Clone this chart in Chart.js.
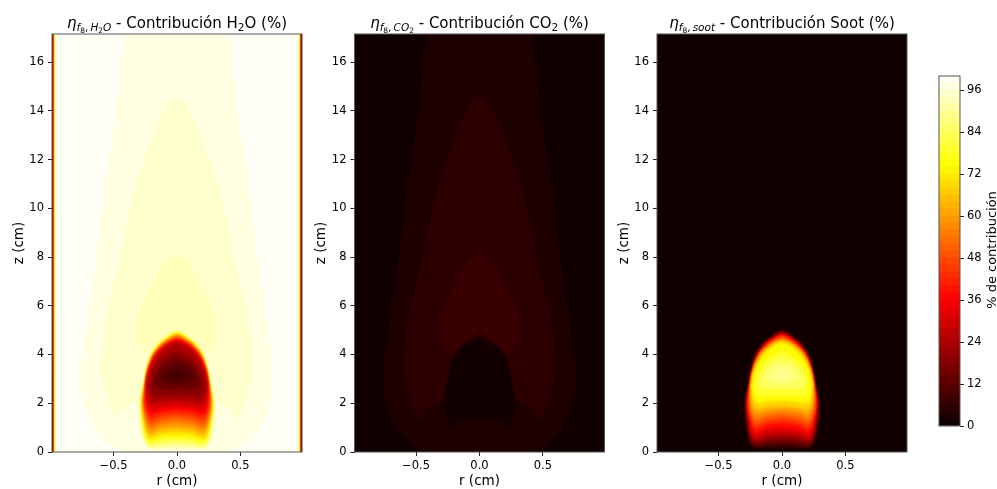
<!DOCTYPE html>
<html><head><meta charset="utf-8">
<style>
html,body{margin:0;padding:0;background:#fff;width:997px;height:489px;overflow:hidden}
canvas{position:absolute;top:0}
</style>
<script src="https://cdn.jsdelivr.net/npm/chart.js@4"></script>
</head><body>
<canvas id="c1" width="310" height="489" style="left:0"></canvas>
<canvas id="c2" width="305" height="489" style="left:305px"></canvas>
<canvas id="c3" width="305" height="489" style="left:608px"></canvas>
<canvas id="cb" width="82" height="489" style="left:915px"></canvas>
<script>
// ---- axis data ----
const rLimit = 0.985;
const zLimit = 17.15;
const rTicks = [-0.5, 0, 0.5];
const rTickLabels = ['\u22120.5', '0.0', '0.5'];
const zTicks = [0, 2, 4, 6, 8, 10, 12, 14, 16];
const colorbarTicks = [0, 12, 24, 36, 48, 60, 72, 84, 96];
const colorbarEdges = [0,2,4,6,8,10,12,14,16,18,20,22,24,26,28,30,32,34,36,38,40,42,44,46,48,50,52,54,56,58,60,62,64,66,68,70,72,74,76,78,80,82,84,86,88,90,92,94,96,98,100];

// ---- contour levels (% contribution) ----
const h2oBackground = 99;
const co2Background = 1;
const sootBackground = 1;
const h2oOuterLevels = [97, 95, 93];
const co2OuterLevels = [3, 5, 7];
const co2BubbleLevel = 1;
const sootFlameLevels = [3, 8, 14, 20, 26, 32, 38, 44, 50, 56, 62, 68, 74, 79, 84, 87, 89];
const h2oFlameLevels = [95, 90, 84, 78, 72, 66, 60, 54, 48, 42, 36, 30, 24, 19, 14, 11, 9];
const wallLevels = [90, 70, 50, 30, 5];
const wallInnerR = [0.956, 0.964, 0.970, 0.974, 0.979];

// ---- contour outlines, right half, [r, z] in cm ----
const outlineA = [[0,0],[.41,0],[.52,.28],[.62,.75],[.70,1.5],[.745,2.3],[.755,3.0],[.75,3.8],[.72,4.86],[.677,6.4],[.643,7.7],[.565,11],[.486,13.7],[.412,17.15],[.40,17.15],[0,17.15]];
const outlineB = [[0,4.78],[.14,4.38],[.2,4.0],[.245,3.3],[.265,2.7],[.289,2.2],[.336,2.0],[.428,1.72],[.48,1.31],[.507,1.58],[.55,2.27],[.593,3.09],[.59,4.18],[.56,5.55],[.5,6.9],[.459,7.7],[.394,9.48],[.328,10.87],[.223,12.5],[.118,13.85],[.05,14.4],[0,14.55]];
const outlineC = [[0,4.97],[.126,4.45],[.218,4.02],[.297,4.45],[.32,4.93],[.31,5.48],[.257,6.23],[.178,7.05],[.1,7.73],[0,8.07]];
const outlineBubble = [[0,1.38],[.165,1.24],[.226,1.01],[.244,1.1],[.27,1.72],[.262,2.54],[.218,3.63],[.178,4.04],[.087,4.38],[0,4.59]];
const flameOutlines = [
[[0,.08],[.12,.08],[.19,.10],[.235,.18],[.265,.45],[.285,.95],[.297,1.6],[.297,2.1],[.264,2.8],[.243,3.4],[.214,3.98],[.178,4.32],[.147,4.52],[.1,4.73],[.052,4.93],[0,5.03]],
[[0,.2],[.12,.18],[.19,.15],[.232,.23],[.26,.5],[.278,.98],[.291,1.6],[.292,2.1],[.262,2.8],[.241,3.4],[.21,3.98],[.172,4.32],[.14,4.52],[.09,4.73],[.045,4.91],[0,5.0]],
[[0,.34],[.12,.31],[.19,.24],[.228,.3],[.254,.56],[.272,1.0],[.285,1.6],[.287,2.1],[.26,2.8],[.239,3.4],[.206,3.98],[.166,4.32],[.132,4.52],[.08,4.73],[.04,4.88],[0,4.96]],
[[0,.5],[.12,.46],[.19,.36],[.225,.4],[.25,.63],[.266,1.02],[.279,1.6],[.282,2.1],[.258,2.8],[.237,3.4],[.202,3.98],[.16,4.32],[.125,4.52],[.07,4.73],[.035,4.85],[0,4.92]],
[[0,.66],[.12,.61],[.19,.48],[.222,.5],[.246,.72],[.26,1.05],[.274,1.6],[.278,2.1],[.256,2.8],[.235,3.4],[.198,3.98],[.154,4.32],[.118,4.52],[.06,4.73],[.03,4.82],[0,4.88]],
[[0,.82],[.12,.77],[.19,.62],[.218,.63],[.24,.82],[.254,1.1],[.27,1.6],[.274,2.1],[.254,2.8],[.233,3.4],[.194,3.98],[.148,4.32],[.11,4.52],[.05,4.73],[.025,4.79],[0,4.84]],
[[0,1],[.12,.94],[.19,.78],[.214,.77],[.235,.94],[.25,1.2],[.266,1.65],[.27,2.1],[.252,2.8],[.231,3.4],[.19,3.98],[.142,4.32],[.102,4.52],[.04,4.73],[0,4.8]],
[[0,1.2],[.12,1.12],[.19,.95],[.21,.94],[.23,1.08],[.246,1.32],[.262,1.7],[.266,2.1],[.25,2.8],[.229,3.4],[.186,3.98],[.136,4.32],[.09,4.52],[.025,4.73],[0,4.76]],
[[0,1.38],[.12,1.3],[.19,1.14],[.21,1.12],[.228,1.25],[.243,1.45],[.258,1.75],[.262,2.1],[.248,2.8],[.227,3.4],[.182,3.98],[.13,4.32],[.08,4.52],[.03,4.68],[0,4.71]],
[[0,1.55],[.12,1.48],[.19,1.34],[.21,1.33],[.225,1.42],[.24,1.6],[.252,1.85],[.256,2.1],[.246,2.8],[.225,3.4],[.178,3.98],[.12,4.32],[.065,4.52],[.025,4.63],[0,4.66]],
[[0,1.72],[.12,1.66],[.19,1.55],[.212,1.55],[.228,1.67],[.24,1.85],[.248,2.05],[.25,2.25],[.244,2.8],[.222,3.4],[.172,3.98],[.11,4.32],[.05,4.52],[0,4.6]],
[[0,1.88],[.12,1.83],[.18,1.75],[.21,1.78],[.228,1.95],[.238,2.15],[.241,2.5],[.241,2.8],[.218,3.4],[.165,3.98],[.1,4.32],[.03,4.52],[0,4.54]],
[[0,2.1],[.12,2.06],[.18,2.0],[.21,2.05],[.225,2.25],[.235,2.5],[.238,2.8],[.212,3.4],[.145,3.98],[.07,4.32],[0,4.47]],
[[0,2.3],[.12,2.28],[.17,2.27],[.2,2.35],[.215,2.6],[.218,2.8],[.185,3.4],[.12,3.8],[.06,4.02],[0,4.12]],
[[0,2.58],[.1,2.57],[.15,2.62],[.178,2.75],[.184,2.9],[.14,3.42],[.09,3.67],[0,3.87]],
[[0,2.82],[.07,2.83],[.115,2.92],[.14,3.08],[.08,3.44],[.04,3.54],[0,3.58]],
[[0,3.0],[.04,3.01],[.07,3.12],[.05,3.32],[0,3.4]]
];

// ---- text ----
const rLabel = 'r (cm)';
const zLabel = 'z (cm)';
const colorbarLabel = '% de contribuci\u00f3n';
const mathPrefix = [['\u03b7',15,'italic',0],['f',10.5,'italic',3],['8',7.5,'',5],[',\u2009',10.5,'',3]];
const titleH2O = mathPrefix.concat([['H',10.5,'italic',3],['2',7.5,'',5],['O',10.5,'italic',3],[' - Contribuci\u00f3n H',15,'',0],['2',10.5,'',3],['O (%)',15,'',0]]);
const titleCO2 = mathPrefix.concat([['CO',10.5,'italic',3],['2',7.5,'',5],[' - Contribuci\u00f3n CO',15,'',0],['2',10.5,'',3],[' (%)',15,'',0]]);
const titleSoot = mathPrefix.concat([['soot',10.5,'italic',3],[' - Contribuci\u00f3n Soot (%)',15,'',0]]);

// ---- helpers ----
const FONT = '"DejaVu Sans", sans-serif';
const FRAME = '#555';
function hot(v){
  const t = v/100;
  const r = Math.min(1, 0.0416 + t/0.365079*0.9584);
  const g = Math.max(0, Math.min(1, (t-0.365079)/(0.746032-0.365079)));
  const b = Math.max(0, (t-0.746032)/(1-0.746032));
  return `rgb(${Math.round(r*255)},${Math.round(g*255)},${Math.round(b*255)})`;
}
function mirrored(half){
  const right = half.map(p=>({x:p[0],y:p[1]}));
  const left = half.slice(0,-1).reverse().map(p=>({x:-p[0],y:p[1]}));
  return right.concat(left);
}
function rectangle(r0,r1){
  return [{x:r0,y:0},{x:r1,y:0},{x:r1,y:zLimit},{x:r0,y:zLimit}];
}
const softEdgePlugin = {id:'softEdge',
  afterDatasetDraw(ch,args){
    const next = ch.data.datasets[args.index+1];
    ch.ctx.filter = next && next.softEdge ? 'blur(1px)' : 'none';
  },
  afterDatasetsDraw(ch){ ch.ctx.filter='none'; }
};
const framePlugin = {id:'frame',afterDatasetsDraw(ch){
  const a=ch.chartArea,c=ch.ctx;c.save();c.filter='none';c.strokeStyle=FRAME;c.lineWidth=1;
  c.strokeRect(a.left,a.top,a.right-a.left,a.bottom-a.top);c.restore();
}};
const titlePlugin = {id:'mathTitle',afterDraw(ch,args,opts){
  if(!opts.runs) return;
  const c=ch.ctx;c.save();c.fillStyle='#000';c.textBaseline='alphabetic';c.textAlign='left';
  const fontOf=r=>`${r[2]} ${r[1]}px ${FONT}`;
  let w=0;opts.runs.forEach(r=>{c.font=fontOf(r);w+=c.measureText(r[0]).width;});
  let x=(ch.chartArea.left+ch.chartArea.right)/2-w/2;
  opts.runs.forEach(r=>{c.font=fontOf(r);c.fillText(r[0],x,opts.y+r[3]);x+=c.measureText(r[0]).width;});
  c.restore();
}};
function contourChart(id,canvasLeft,plotLeft,layers,runs){
  const yw=41;
  const datasets=layers.map((l,i)=>({
    data:l.points,showLine:true,fill:'shape',pointRadius:0,borderWidth:0,softEdge:!!l.soft,
    backgroundColor:hot(l.level),borderColor:hot(l.level),tension:l.flat?0:0.35,order:layers.length-i
  }));
  return new Chart(document.getElementById(id),{
    type:'scatter',data:{datasets},plugins:[softEdgePlugin,framePlugin,titlePlugin],
    options:{responsive:false,animation:false,events:[],
      layout:{padding:{left:plotLeft-canvasLeft-yw,right:document.getElementById(id).width-(plotLeft-canvasLeft+250),top:34,bottom:0}},
      plugins:{legend:{display:false},tooltip:{enabled:false},title:{display:false},mathTitle:{runs,y:28}},
      scales:{
        x:{type:'linear',min:-rLimit,max:rLimit,
          afterBuildTicks:s=>{s.ticks=rTicks.map(v=>({value:v}));},
          afterFit:s=>{s.height=37;},
          grid:{drawOnChartArea:false,drawTicks:true,tickLength:4,tickColor:'#222'},border:{display:false},
          ticks:{color:'#000',font:{family:FONT,size:11.5},padding:3,maxRotation:0,autoSkip:false,
            callback:v=>rTickLabels[rTicks.indexOf(v)]},
          title:{display:true,text:rLabel,color:'#000',font:{family:FONT,size:13.5,lineHeight:1.1},padding:0}},
        y:{type:'linear',min:0,max:zLimit,
          afterBuildTicks:s=>{s.ticks=zTicks.map(v=>({value:v}));},
          afterFit:s=>{s.width=yw;},
          grid:{drawOnChartArea:false,drawTicks:true,tickLength:4,tickColor:'#222'},border:{display:false},
          ticks:{color:'#000',font:{family:FONT,size:11.5},padding:4,autoSkip:false,callback:v=>String(v)},
          title:{display:true,text:zLabel,color:'#000',font:{family:FONT,size:13.5,lineHeight:1.2},padding:0}}
      }}
  });
}

// ---- panels ----
const bg=(level)=>({level,points:rectangle(-rLimit,rLimit),flat:true});
const outerShapes=[outlineA,outlineB,outlineC];
const h2oLayers=[bg(h2oBackground)]
  .concat(h2oOuterLevels.map((v,i)=>({level:v,points:mirrored(outerShapes[i])})))
  .concat(h2oFlameLevels.map((v,i)=>({level:v,points:mirrored(flameOutlines[i]),soft:true})));
wallLevels.forEach((v,i)=>{
  h2oLayers.push({level:v,points:rectangle(-rLimit,-wallInnerR[i]),flat:true});
  h2oLayers.push({level:v,points:rectangle(wallInnerR[i],rLimit),flat:true});
});
const co2Layers=[bg(co2Background)]
  .concat(co2OuterLevels.map((v,i)=>({level:v,points:mirrored(outerShapes[i])})))
  .concat([{level:co2BubbleLevel,points:mirrored(outlineBubble)}]);
const sootLayers=[bg(sootBackground)]
  .concat(sootFlameLevels.map((v,i)=>({level:v,points:mirrored(flameOutlines[i]),soft:true})));

contourChart('c1',0,52,h2oLayers,titleH2O);
contourChart('c2',305,354.5,co2Layers,titleCO2);
contourChart('c3',608,657,sootLayers,titleSoot);

// ---- colour bar ----
const cbLabelPlugin={id:'cbLabel',afterDraw(ch){
  const c=ch.ctx;c.save();c.fillStyle='#000';c.font=`13px ${FONT}`;c.textAlign='center';c.textBaseline='middle';
  c.translate(77.5,250);c.rotate(-Math.PI/2);c.fillText(colorbarLabel,0,0);c.restore();
}};
new Chart(document.getElementById('cb'),{
  type:'bar',
  data:{labels:['%'],datasets:colorbarEdges.slice(0,-1).map((lo,i)=>({
    data:[[lo,colorbarEdges[i+1]]],backgroundColor:hot((lo+colorbarEdges[i+1])/2),borderWidth:0,
    barPercentage:1,categoryPercentage:1,grouped:false}))},
  plugins:[framePlugin,cbLabelPlugin],
  options:{responsive:false,animation:false,events:[],
    layout:{padding:{left:24,right:0,top:76,bottom:63}},
    plugins:{legend:{display:false},tooltip:{enabled:false}},
    scales:{
      x:{display:false,stacked:false},
      y:{type:'linear',position:'right',min:0,max:100,
        afterBuildTicks:s=>{s.ticks=colorbarTicks.map(v=>({value:v}));},
        afterFit:s=>{s.width=37;},
        grid:{drawOnChartArea:false,drawTicks:true,tickLength:4,tickColor:'#222'},border:{display:false},
        ticks:{color:'#000',font:{family:FONT,size:11.5},padding:3,autoSkip:false,callback:v=>String(v)}}
    }}
});
</script>
</body></html>
